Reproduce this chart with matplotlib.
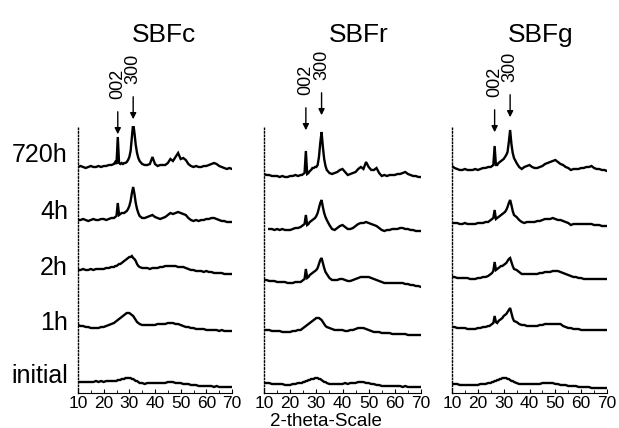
import numpy as np
import matplotlib
matplotlib.use('Agg')
import matplotlib.pyplot as plt
from matplotlib.ticker import MultipleLocator
import matplotlib.transforms as mtransforms

plt.rcParams['font.family'] = ['Liberation Sans', 'DejaVu Sans']

# 2-theta grid: 1 deg steps, 0.5 deg steps around the 002 / 300 reflections
two_theta = np.concatenate([np.arange(10, 24.5, 1.0),
                            np.arange(24.5, 34.5, 0.5),
                            np.arange(35, 70.5, 1.0)])

samples = ['720h', '4h', '2h', '1h', 'initial']
panels = ['SBFc', 'SBFr', 'SBFg']
peak_002 = [25.5, 26.0, 26.5]
peak_300 = [31.5, 32.0, 32.5]

# intensities (arbitrary units)
c_720h = [0, 1, 0, -1, 0, 1, 0, 0, 1, 0, 1, 1, 2, 2, 3,
          5, 3, 30, 4, 3, 4, 3, 4, 4, 5, 7, 10, 16, 30, 44, 34, 22, 14, 9, 6,
          3, 2, 2, 3, 10, 3, 1, 2, 2, 2, 4, 8, 6, 10, 14, 8, 9, 7, 3, 1, 0, 1, 0, 0, 1, 1, 2, 3, 4, 3, 1, 0, -1, -2, -1, -2]
c_4h = [0, 0, 1, 0, -1, 0, 1, 0, 0, 1, 1, 0, 1, 2, 2,
        3, 4, 17, 5, 6, 7, 7, 7, 8, 9, 11, 14, 19, 27, 33, 26, 17, 11, 7, 4,
        2, 2, 3, 4, 5, 3, 2, 1, 2, 3, 5, 7, 6, 7, 8, 7, 6, 5, 2, 0, -1, 0, -1, 0, 0, 1, 1, 2, 2, 1, 0, -1, -1, -2, -2, -2]
c_2h = [0, 0, 1, 0, 0, 1, 0, 1, 1, 1, 1, 2, 2, 3, 3,
        4, 4, 5, 6, 6, 7, 8, 9, 10, 11, 12, 13, 13, 14, 12, 11, 9, 6, 4, 3,
        2, 2, 2, 1, 2, 2, 2, 3, 3, 4, 4, 4, 4, 4, 3, 3, 3, 2, 1, 0, 0, -1, -1, -1, -2, -1, -2, -2, -3, -3, -3, -3, -4, -4, -4, -4]
c_1h = [0, -1, -1, -2, -2, -3, -3, -3, -3, -2, -2, -1, 0, 1, 2,
        3, 4, 5, 6, 7, 8, 9, 10, 11, 12, 12, 12, 11, 10, 9, 7, 5, 3, 2, 1,
        0, 0, 0, 0, 0, 0, 1, 1, 1, 1, 2, 2, 2, 1, 1, 0, -1, -2, -2, -3, -3, -4, -4, -4, -4, -5, -5, -5, -5, -5, -6, -5, -6, -6, -6, -6]
c_initial = [0, 0, 0, 0, 0, 0, 0, 1, 0, 1, 0, 1, 1, 1, 1,
             1, 1, 2, 2, 2, 3, 3, 3, 4, 4, 4, 4, 4, 3, 3, 2, 1, 1, 0, -1,
             -1, -2, -1, -1, -1, -1, -1, -1, -1, -1, 0, 0, 0, -1, -1, -1, -2, -2, -2, -3, -3, -3, -4, -4, -4, -4, -4, -4, -5, -4, -5, -5, -5, -5, -5, -5]

r_720h = [1, 0, 0, -1, -1, -1, -2, -1, -2, -2, -1, -1, 0, -1, 0,
          0, 1, 2, 24, 1, 2, 4, 5, 7, 7, 8, 8, 10, 18, 32, 43, 28, 16, 9, 5,
          2, 1, 2, 3, 5, 6, 3, 0, 1, 2, 3, 6, 8, 6, 13, 8, 5, 5, 7, 2, -1, 0, -1, 0, 0, 0, 1, 1, 2, 3, 1, 0, -1, -1, -2, -2]
r_4h = [np.nan, np.nan, 0, 0, -1, 0, -1, 0, -1, -1, -1, 0, 1, 1, 2,
        3, 4, 5, 14, 4, 5, 7, 8, 9, 10, 11, 13, 16, 21, 26, 29, 22, 16, 12, 9,
        4, 0, -1, 1, 3, 4, 2, 0, 0, 1, 3, 5, 6, 6, 7, 6, 5, 4, 3, 1, -1, -2, -1, -1, 0, 0, 0, 1, 1, 0, 0, -1, -1, -2, -2, -2]
r_2h = [0, 0, -1, -1, -1, -2, -2, -2, -2, -3, -3, -3, -2, -2, -2,
        -1, 0, 1, 11, 2, 3, 5, 6, 7, 8, 9, 10, 12, 16, 20, 22, 17, 12, 8, 6,
        2, 0, 0, 0, 1, 1, 0, -1, -1, 0, 1, 2, 3, 3, 3, 3, 2, 1, 0, -1, -2, -3, -3, -3, -3, -3, -3, -3, -3, -4, -4, -5, -5, -6, -6, -7]
r_1h = [0, 0, 0, -1, -1, -1, -1, -2, -2, -2, -2, -1, -1, 0, 0,
        1, 2, 3, 4, 5, 6, 7, 8, 9, 10, 11, 12, 12, 12, 11, 10, 8, 6, 4, 3,
        2, 1, 0, 0, 0, 0, -1, -1, 0, 0, 1, 2, 2, 2, 1, 0, -1, -2, -2, -2, -3, -3, -3, -3, -4, -4, -4, -4, -4, -4, -5, -5, -5, -5, -5, -5]
r_initial = [0, 0, 0, -1, -1, -1, -1, -1, -2, -2, -2, -1, -1, 0, 0,
             0, 1, 1, 2, 2, 3, 3, 4, 4, 4, 5, 5, 5, 4, 4, 3, 2, 1, 1, 0,
             -1, -1, -1, -1, -1, -1, 0, -1, 0, 0, 0, 1, 1, 1, 0, 0, -1, -1, -2, -2, -3, -3, -3, -3, -3, -3, -3, -3, -4, -3, -4, -4, -4, -4, -4, -4]

g_720h = [2, 0, -1, -2, -2, -1, -2, -2, -2, -1, -2, -1, 0, 0, 1,
          1, 1, 2, 3, 22, 3, 3, 5, 6, 7, 8, 9, 11, 13, 16, 26, 38, 24, 15, 10,
          5, 1, -1, 1, 2, 3, 1, 0, 0, 1, 2, 4, 5, 6, 7, 8, 6, 4, 3, 1, 0, -2, -1, -1, -1, 0, 0, 1, 1, 2, 0, -1, -1, -2, -2, -3]
g_4h = [0, 0, 0, -1, -1, 0, -1, -1, -1, -1, 0, 0, 0, 1, 1,
        2, 3, 4, 5, 13, 4, 5, 6, 7, 8, 9, 10, 11, 13, 16, 20, 23, 18, 12, 8,
        6, 3, 1, 0, 1, 1, 1, 1, 2, 2, 3, 4, 4, 4, 5, 4, 3, 3, 2, 1, 0, -2, -1, -1, -1, -1, -1, -1, -1, -1, -2, -2, -2, -3, -3, -3]
g_2h = [0, 0, -1, -1, -1, -1, -1, -2, -2, -2, -1, -1, 0, 0, 1,
        2, 3, 4, 6, 15, 7, 8, 9, 10, 11, 11, 12, 13, 14, 16, 18, 19, 15, 11, 8,
        7, 5, 3, 3, 3, 3, 3, 3, 3, 4, 4, 5, 5, 5, 6, 6, 6, 5, 4, 3, 2, 1, 0, 0, -1, -1, -2, -2, -2, -2, -2, -2, -2, -2, -2, -2]
g_1h = [0, 0, -1, -1, -1, -1, -2, -2, -2, -2, -1, -1, 0, 0, 1,
        1, 2, 3, 4, 11, 5, 4, 6, 7, 8, 9, 11, 12, 13, 15, 17, 19, 14, 9, 6,
        5, 3, 2, 2, 1, 1, 1, 1, 1, 2, 2, 3, 3, 3, 3, 3, 3, 3, 1, 0, -1, -1, -2, -2, -2, -3, -3, -3, -3, -3, -3, -3, -3, -3, -3, -3]
g_initial = [0, 0, 0, -1, -1, -1, -1, -1, -1, -1, -1, 0, 0, 0, 1,
             1, 1, 2, 2, 3, 3, 4, 4, 5, 5, 6, 6, 6, 6, 5, 5, 4, 3, 3, 2,
             1, 0, 0, 0, 0, 0, 0, 0, 0, 0, 1, 1, 1, 1, 1, 0, 0, -1, -1, -1, -2, -2, -2, -2, -3, -3, -3, -3, -3, -4, -4, -4, -4, -4, -4, -4]

patterns = {
    'SBFc': [c_720h, c_4h, c_2h, c_1h, c_initial],
    'SBFr': [r_720h, r_4h, r_2h, r_1h, r_initial],
    'SBFg': [g_720h, g_4h, g_2h, g_1h, g_initial],
}

# layout (stacking offsets, arrow tips, label positions)
offsets = {'SBFc': [226, 173, 123, 68, 11],
           'SBFr': [218, 164, 113, 63, 10],
           'SBFg': [225, 170, 116, 66, 9]}
tip_002 = [256, 260, 258]
tip_300 = [271, 275, 273]
title_x = [0.56, 0.605, 0.57]
label_y = [238, 181, 125, 70, 17]
ax_left = [78, 264, 452]
ax_right = [232, 421, 607]

W, H = 619, 428
fig = plt.figure(figsize=(W / 100, H / 100), dpi=100)

for i, name in enumerate(panels):
    ax = fig.add_axes([ax_left[i] / W, 1 - 393 / H,
                       (ax_right[i] - ax_left[i]) / W, (393 - 126) / H])
    for k, s in enumerate(samples):
        y = np.array(patterns[name][k], dtype=float) + offsets[name][k]
        ax.plot(two_theta, y, color='black', lw=1.7, solid_joinstyle='miter')

    ax.set_xlim(10, 70)
    ax.set_ylim(0, 267)
    ax.xaxis.set_major_locator(MultipleLocator(10))
    ax.xaxis.set_minor_locator(MultipleLocator(5))
    ax.tick_params(axis='x', which='major', direction='in', length=3, labelsize=12.5, pad=2)
    ax.tick_params(axis='x', which='minor', direction='in', length=2)
    ax.set_yticks([])
    ax.spines['top'].set_visible(False)
    ax.spines['right'].set_visible(False)
    ax.spines['left'].set_linestyle((0, (1, 1.5)))
    ax.spines['left'].set_linewidth(1.0)
    ax.spines['bottom'].set_linewidth(0.8)

    for px, tip, lab in [(peak_002[i], tip_002[i], '002'), (peak_300[i], tip_300[i], '300')]:
        ax.annotate('', xy=(px, tip), xytext=(px, tip + 28),
                    arrowprops=dict(arrowstyle='-|>', color='black', lw=1, mutation_scale=9),
                    annotation_clip=False)
        ax.text(px, tip + 38, lab, rotation=90, ha='center', va='bottom',
                fontsize=13, clip_on=False)

    ax.text(title_x[i], 1.34, name, transform=ax.transAxes, ha='center',
            va='center', fontsize=19)

    if i == 0:
        trans = mtransforms.blended_transform_factory(ax.transAxes, ax.transData)
        for s, ly in zip(samples, label_y):
            ax.text(-0.065, ly, s, transform=trans, ha='right', va='center', fontsize=18)

fig.text(326 / W, 1 - 421 / H, '2-theta-Scale', ha='center', va='center', fontsize=13.5)

fig.savefig('out.png', dpi=100)
